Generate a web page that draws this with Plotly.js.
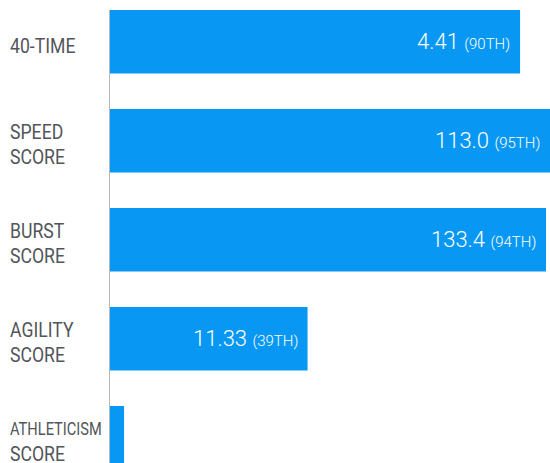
<!DOCTYPE html>
<html>
<head>
<meta charset="utf-8">
<script src="https://cdn.plot.ly/plotly-3.0.1.min.js"></script>
<style>html,body{margin:0;padding:0;background:#fff;overflow:hidden;}#chart{width:550px;height:463px;}</style>
</head>
<body>
<div id="chart"></div>
<script>
// Data
const categories = ["40-TIME", "SPEED SCORE", "BURST SCORE", "AGILITY SCORE", "ATHLETICISM SCORE"];
const labelLine1 = ["40-TIME", "SPEED", "BURST", "AGILITY", "ATHLETICISM"];
const labelLine2 = ["", "SCORE", "SCORE", "SCORE", "SCORE"];
const barLength = [93.2, 100, 99.1, 44.9, 3.2];      // bar length (axis 0-100)
const valueText = ["4.41", "113.0", "133.4", "11.33", ""];
const percentileText = ["90TH", "95TH", "94TH", "39TH", ""];

const barColor = "#0898f3";
const labelColor = "#52555a";
const labelFont = "Roboto, sans-serif";

const trace = {
  type: "bar",
  orientation: "h",
  y: categories,
  x: barLength,
  width: 0.641,
  marker: {color: barColor, line: {width: 0}},
  hoverinfo: "none"
};

const annotations = [];
const condense = {};   // annotation index -> horizontal condensing ratio
const plotLeft = 110, plotWidth = 440;
categories.forEach((c, i) => {
  const small = labelLine1[i].length > 9;
  const fs = small ? 18.5 : 21;
  const two = labelLine2[i] !== "";
  condense[annotations.length] = small ? 0.79 : 0.84;
  annotations.push({
    xref: "paper", yref: "y", x: -100 / plotWidth, y: c,
    xanchor: "left", yanchor: "middle", align: "left", showarrow: false,
    text: labelLine1[i], yshift: two ? 8.5 : -4, xshift: -2,
    font: {family: labelFont, size: fs, color: labelColor}
  });
  if (two) {
    condense[annotations.length] = 0.84;
    annotations.push({
      xref: "paper", yref: "y", x: -100 / plotWidth, y: c,
      xanchor: "left", yanchor: "middle", align: "left", showarrow: false,
      text: labelLine2[i], yshift: -16.5, xshift: -2,
      font: {family: labelFont, size: 21, color: labelColor}
    });
  }
  if (valueText[i] !== "") {
    annotations.push({
      xref: "x", yref: "y", x: barLength[i], y: c,
      xanchor: "right", yanchor: "middle", showarrow: false, xshift: -8,
      text: valueText[i] + ' <span style="font-size:15px">(' + percentileText[i] + ')</span>',
      font: {family: "Roboto, sans-serif", size: 22, color: "#ffffff", weight: 300}
    });
  }
});

const layout = {
  width: 550, height: 463,
  margin: {l: plotLeft, r: 0, t: 10, b: 0, pad: 0},
  paper_bgcolor: "#ffffff", plot_bgcolor: "#ffffff",
  showlegend: false,
  xaxis: {range: [0, 100], showgrid: false, zeroline: false, showticklabels: false, showline: false, fixedrange: true},
  yaxis: {type: "category", range: [4.256, -0.321], showgrid: false, zeroline: false, showticklabels: false,
          showline: true, linecolor: "#b8b8b8", linewidth: 1.5, ticks: "", fixedrange: true},
  annotations: annotations
};

Plotly.newPlot("chart", [trace], layout, {displayModeBar: false, staticPlot: true}).then(gd => {
  // the reference uses a condensed face for the row labels
  gd.querySelectorAll("g.annotation").forEach(g => {
    const idx = +g.getAttribute("data-index");
    if (condense[idx] === undefined) return;
    const t = g.querySelector("text.annotation-text");
    if (!t) return;
    const w = t.getComputedTextLength();
    t.setAttribute("textLength", (w * condense[idx]).toFixed(2));
    t.setAttribute("lengthAdjust", "spacingAndGlyphs");
  });
});
</script>
</body>
</html>
